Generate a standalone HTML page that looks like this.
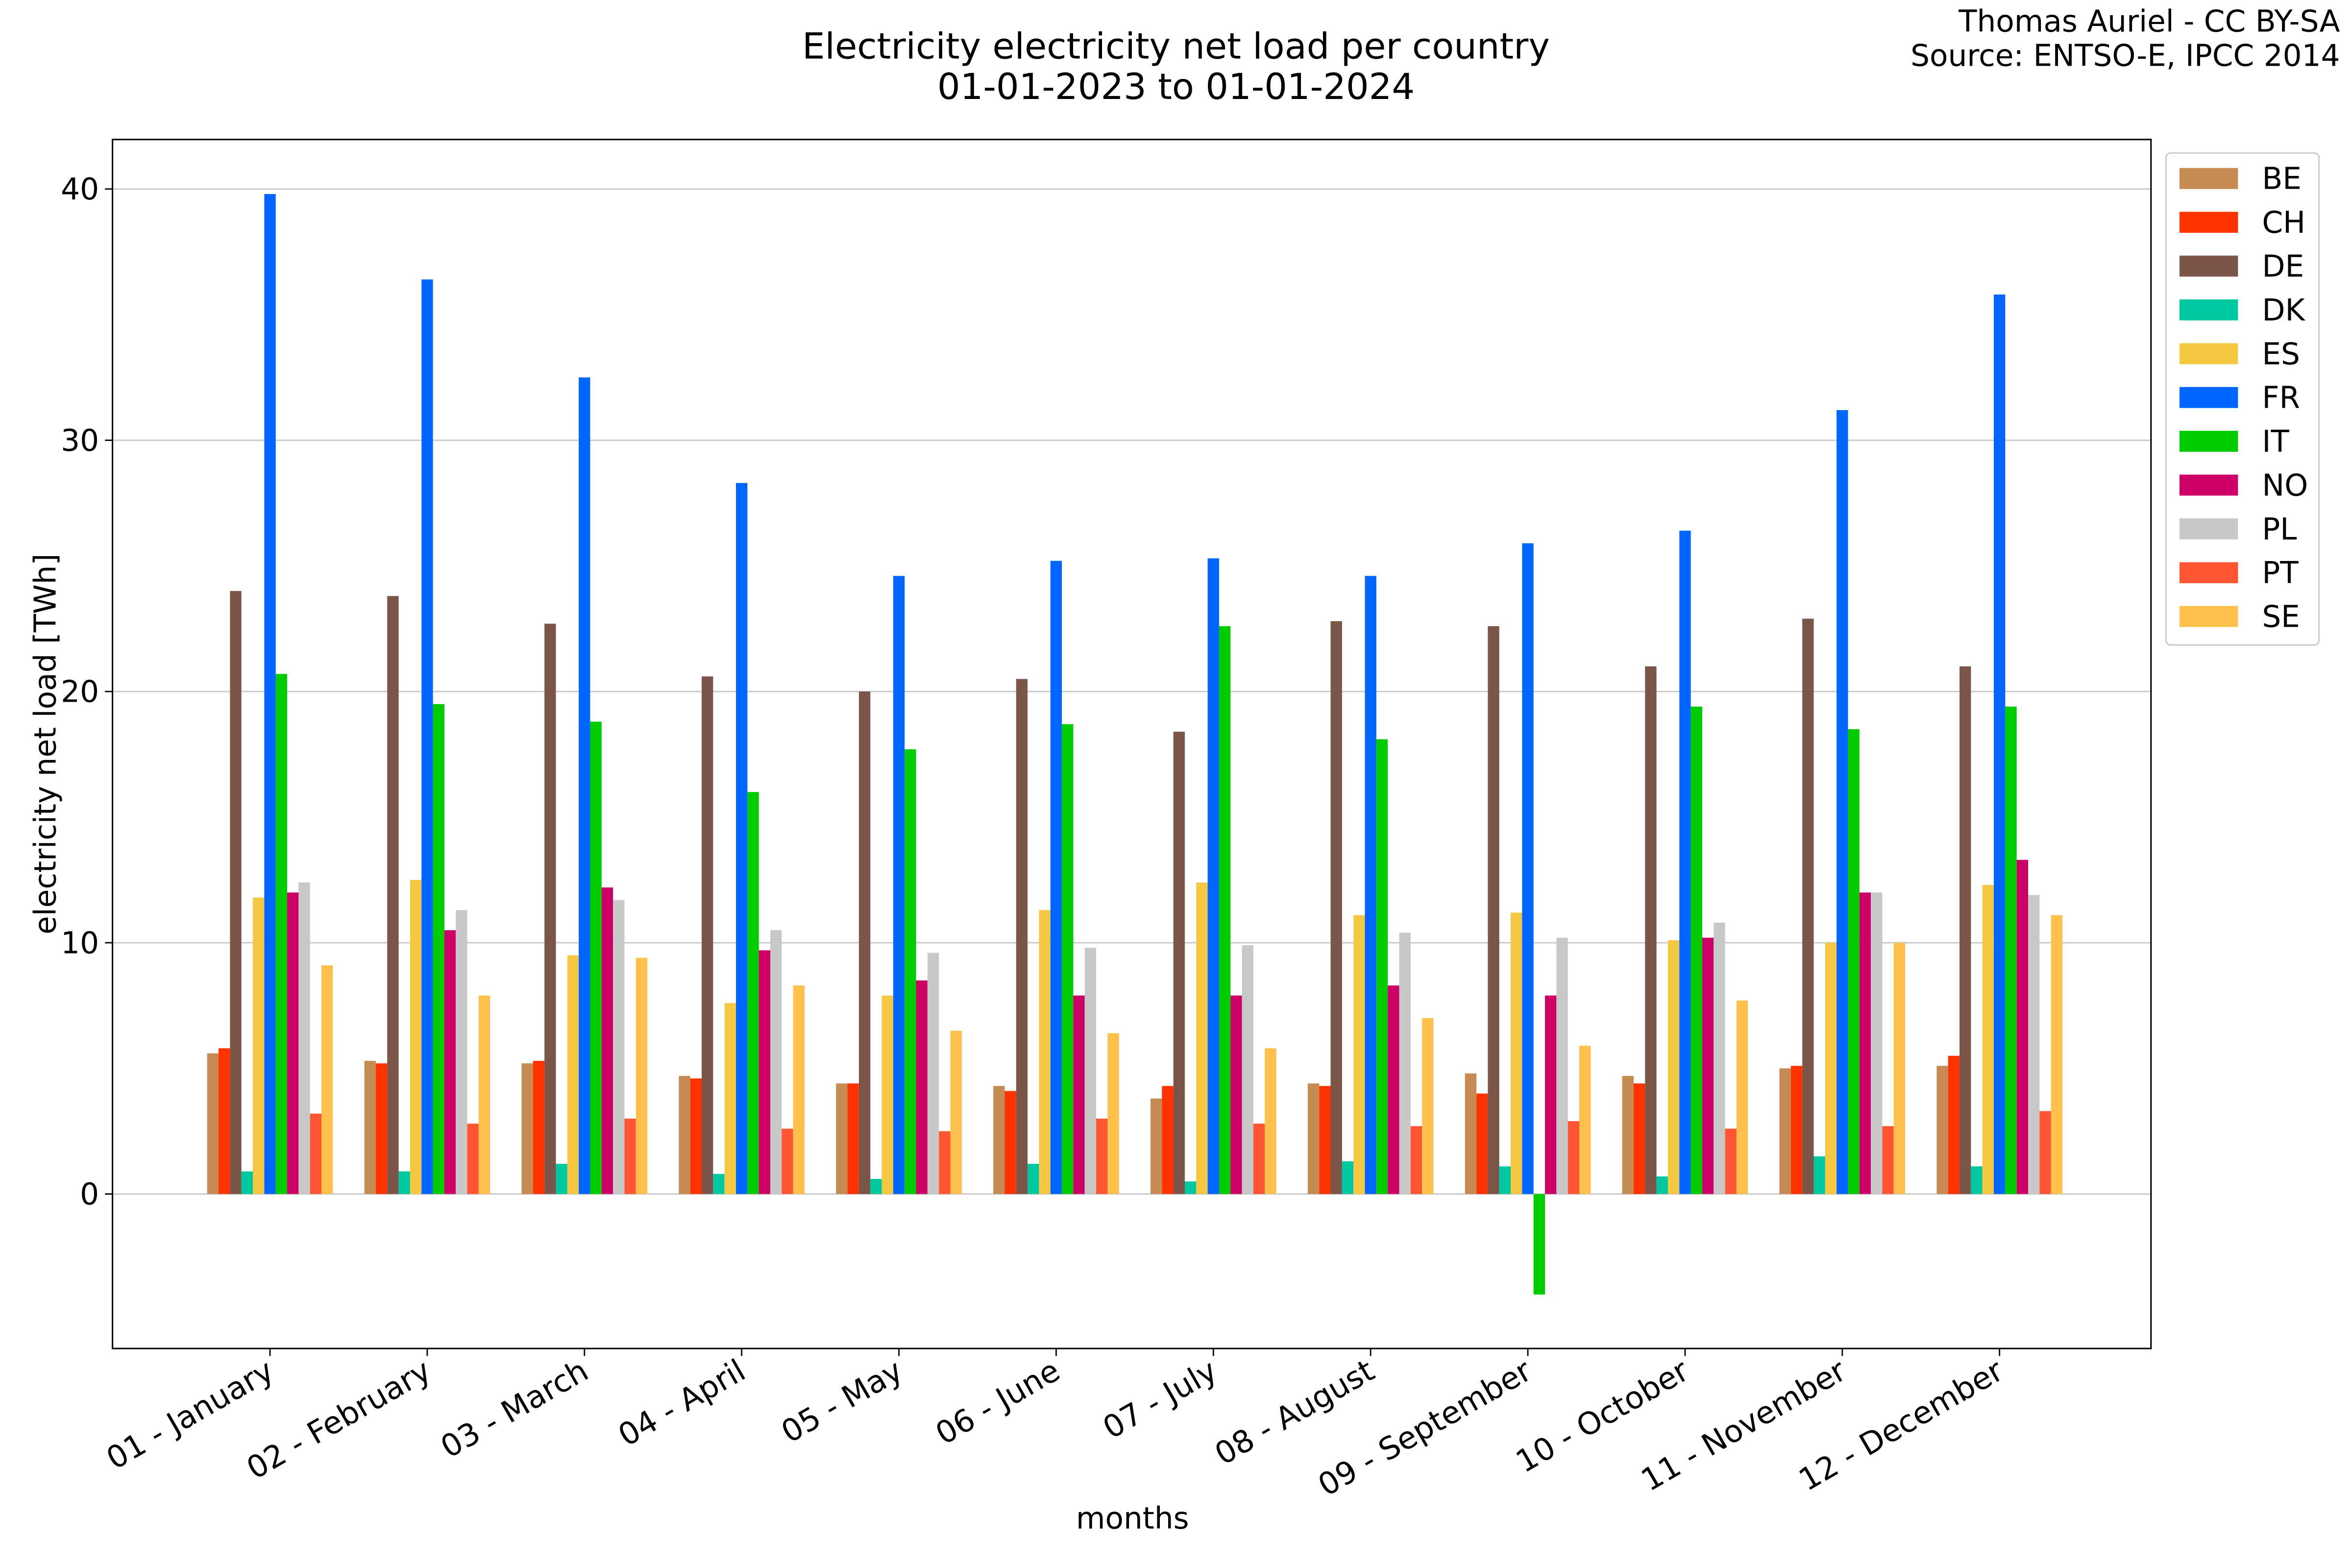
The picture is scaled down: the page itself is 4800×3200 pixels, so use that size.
<!DOCTYPE html>
<html><head><meta charset="utf-8"><style>
html,body{margin:0;padding:0;background:#fff;width:4800px;height:3200px;overflow:hidden}
svg{display:block}
text{font-family:"DejaVu Sans","Liberation Sans",sans-serif;fill:#000}
</style></head><body>
<svg id="s" width="4800" height="3200" viewBox="0 0 1568 1045.33" xmlns="http://www.w3.org/2000/svg">
<rect width="1568" height="1046" fill="#fff"/>
<g id="grid"></g>
<g id="bars"></g>
<rect x="75" y="93" width="1359" height="806" fill="none" stroke="#000" stroke-width="1"/>
<g id="ticks"></g>
<text x="784" y="39" font-size="24" text-anchor="middle">Electricity electricity net load per country</text>
<text x="784" y="66" font-size="24" text-anchor="middle">01-01-2023 to 01-01-2024</text>
<text x="1560" y="21" font-size="20" text-anchor="end">Thomas Auriel - CC BY-SA</text>
<text x="1560" y="44" font-size="20" text-anchor="end">Source: ENTSO-E, IPCC 2014</text>
<text x="755" y="1019" font-size="20" text-anchor="middle">months</text>
<text transform="translate(37,496) rotate(-90)" font-size="20" text-anchor="middle">electricity net load [TWh]</text>
<g id="legend"></g>
</svg>
<script>
var NS="http://www.w3.org/2000/svg";
function el(p,t,a,txt){var e=document.createElementNS(NS,t);for(var k in a)e.setAttribute(k,a[k]);if(txt!==undefined)e.textContent=txt;document.getElementById(p).appendChild(e);return e;}
var names=["BE","CH","DE","DK","ES","FR","IT","NO","PL","PT","SE"];
var cols=["#c68b52","#ff3300","#7a5548","#00c8a0","#f5c842","#0066ff","#00cc00","#cc0066","#c8c8c8","#ff5533","#ffc04c"];
var data=[
[5.6,5.8,24.0,0.9,11.8,39.8,20.7,12.0,12.4,3.2,9.1],
[5.3,5.2,23.8,0.9,12.5,36.4,19.5,10.5,11.3,2.8,7.9],
[5.2,5.3,22.7,1.2,9.5,32.5,18.8,12.2,11.7,3.0,9.4],
[4.7,4.6,20.6,0.8,7.6,28.3,16.0,9.7,10.5,2.6,8.3],
[4.4,4.4,20.0,0.6,7.9,24.6,17.7,8.5,9.6,2.5,6.5],
[4.3,4.1,20.5,1.2,11.3,25.2,18.7,7.9,9.8,3.0,6.4],
[3.8,4.3,18.4,0.5,12.4,25.3,22.6,7.9,9.9,2.8,5.8],
[4.4,4.3,22.8,1.3,11.1,24.6,18.1,8.3,10.4,2.7,7.0],
[4.8,4.0,22.6,1.1,11.2,25.9,-4.0,7.9,10.2,2.9,5.9],
[4.7,4.4,21.0,0.7,10.1,26.4,19.4,10.2,10.8,2.6,7.7],
[5.0,5.1,22.9,1.5,10.0,31.2,18.5,12.0,12.0,2.7,10.0],
[5.1,5.5,21.0,1.1,12.3,35.8,19.4,13.3,11.9,3.3,11.1]];
var months=["01 - January","02 - February","03 - March","04 - April","05 - May","06 - June","07 - July","08 - August","09 - September","10 - October","11 - November","12 - December"];
function Y(v){return 796-v*16.75;}
for(var g=0;g<=40;g+=10){
 el("grid","line",{x1:75,x2:1434,y1:Y(g),y2:Y(g),stroke:"#c8c8c8","stroke-width":0.9});
 el("ticks","line",{x1:70,x2:75,y1:Y(g),y2:Y(g),stroke:"#000","stroke-width":0.9});
 el("ticks","text",{x:66,y:Y(g)+7,"font-size":20,"text-anchor":"end"},String(g));
}
var bw=7.62;
for(var m=0;m<12;m++){
 var cx=180+m*104.82;
 for(var i=0;i<11;i++){
  var v=data[m][i],x=cx+(i-5.5)*bw;
  var y0=Y(Math.max(v,0)),h=Math.abs(v)*16.75;
  el("bars","rect",{x:x,y:y0,width:bw,height:h,fill:cols[i]});
 }
 el("ticks","line",{x1:cx,x2:cx,y1:899,y2:904,stroke:"#000","stroke-width":0.9});
 el("ticks","text",{transform:"translate("+(cx+4)+",918) rotate(-30)","font-size":20.5,"text-anchor":"end"},months[m]);
}
el("legend","rect",{x:1444,y:102,width:102,height:328,fill:"#fff",stroke:"#ccc","stroke-width":1,rx:3});
for(var i=0;i<11;i++){
 var y=119+i*29.2;
 el("legend","rect",{x:1453,y:y-7,width:39,height:14,fill:cols[i]});
 el("legend","text",{x:1508,y:y+7,"font-size":20},names[i]);
}
</script>
</body></html>
